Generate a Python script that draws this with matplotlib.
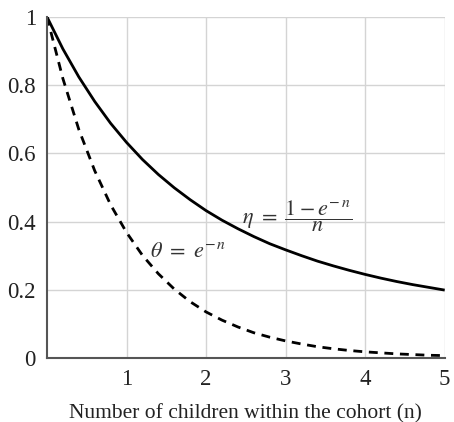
import matplotlib.pyplot as plt

plt.rcParams['font.family'] = ['Liberation Serif', 'DejaVu Serif']
plt.rcParams['mathtext.fontset'] = 'stix'

# values
n = [0.0, 0.2, 0.4, 0.6, 0.8, 1.0, 1.2, 1.4, 1.6, 1.8, 2.0, 2.2, 2.4,
     2.6, 2.8, 3.0, 3.2, 3.4, 3.6, 3.8, 4.0, 4.2, 4.4, 4.6, 4.8, 5.0]
eta = [1.0, 0.906, 0.824, 0.752, 0.688, 0.632, 0.582, 0.538, 0.499, 0.464,
       0.432, 0.404, 0.379, 0.356, 0.335, 0.317, 0.300, 0.284, 0.270, 0.257,
       0.245, 0.234, 0.224, 0.215, 0.207, 0.199]
theta = [1.0, 0.819, 0.670, 0.549, 0.449, 0.368, 0.301, 0.247, 0.202, 0.165,
         0.135, 0.111, 0.091, 0.074, 0.061, 0.050, 0.041, 0.033, 0.027, 0.022,
         0.018, 0.015, 0.012, 0.010, 0.008, 0.007]

x_ticks = [1, 2, 3, 4, 5]
y_ticks = [0, 0.2, 0.4, 0.6, 0.8, 1]
y_labels = ['0', '0.2', '0.4', '0.6', '0.8', '1']

fig = plt.figure(figsize=(4.54, 4.22), dpi=100)
ax = fig.add_axes([0.1035, 0.1517, 0.876, 0.8083])

ax.plot(n, eta, color='black', lw=2.0, solid_capstyle='butt')
ax.plot(n, theta, color='black', lw=2.0, linestyle=(0, (3.2, 2.4)))

ax.set_xlim(0, 5)
ax.set_ylim(0, 1)
ax.set_xticks(x_ticks)
ax.set_yticks(y_ticks)
ax.set_yticklabels(y_labels)
ax.tick_params(length=0, labelsize=16.5, pad=8, labelcolor='#222222')
ax.grid(True, color='#d4d4d4', lw=1.0)
ax.set_axisbelow(True)
for s in ['top', 'right']:
    ax.spines[s].set_visible(False)
for s in ['left', 'bottom']:
    ax.spines[s].set_color('#555555')
    ax.spines[s].set_linewidth(1.5)

ax.set_xlabel('Number of children within the cohort (n)', fontsize=15.5,
              labelpad=10, color='#222222')

ax.text(2.45, 0.415, r'$\eta\ =\ \dfrac{1-e^{-\,n}}{n}$', fontsize=16,
        va='center', color='#333333')
ax.text(1.30, 0.31, r'$\theta\ =\ e^{-\,n}$', fontsize=16, va='center',
        color='#333333')

plt.savefig('out.png', dpi=100)
